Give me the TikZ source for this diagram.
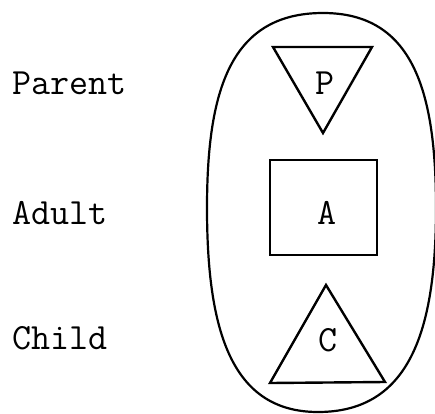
\documentclass[tikz,border=0pt]{standalone}
\begin{document}
\begin{tikzpicture}[x=1pt,y=1pt,
  egoline/.style={line width=2.4pt, line join=miter},
  lbl/.style={font=\fontsize{37}{42}\selectfont\ttfamily, anchor=west, inner sep=0pt},
  letter/.style={font=\fontsize{37}{42}\selectfont\ttfamily, inner sep=0pt}]
\useasboundingbox (0,0) rectangle (435,413);
\clip (0,0) rectangle (435,413);
% ego-state outline (egg shape)
\draw[line width=2.2pt] (323,400)
  .. controls (413,400) and (436,322) .. (436,205)
  .. controls (436,83) and (410,1) .. (318,1)
  .. controls (231,1) and (207,83) .. (207,205)
  .. controls (207,322) and (230,400) .. cycle;
% Parent triangle (pointing down)
\draw[egoline] (273,366) -- (372,366) -- (323,280) -- cycle;
% Adult square
\draw[egoline] (270,158) rectangle (377,253);
% Child triangle (pointing up)
\draw[egoline] (326,128) -- (385,31) -- (270,30) -- cycle;
% letters
\node[letter] (p) at (325,330) {P};
\node[letter] (a) at (327,200) {A};
\node[letter] (c) at (328,73) {C};
% labels
\node[lbl] (parent) at (12,330) {Parent};
\node[lbl] (adult) at (12,200) {Adult};
\node[lbl] (child) at (12,75) {Child};
\end{tikzpicture}
\end{document}
